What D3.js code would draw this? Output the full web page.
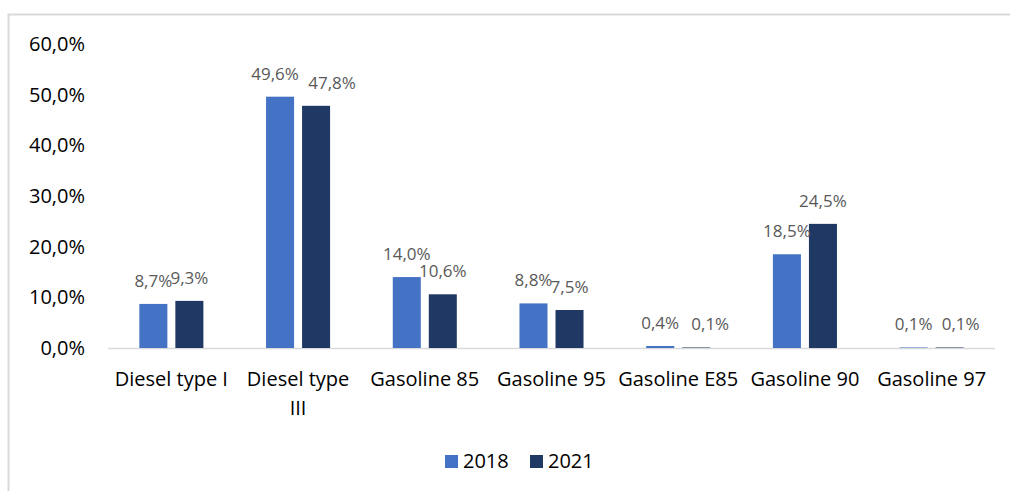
<!DOCTYPE html>
<html>
<head>
<meta charset="utf-8">
<script src="https://cdn.jsdelivr.net/npm/d3@7"></script>
<style>
  body { margin: 0; background: #fff; }
  text { font-family: "Open Sans", sans-serif; }
</style>
</head>
<body>
<div id="chart"></div>
<script>
const categories = ["Diesel type I", "Diesel type III", "Gasoline 85", "Gasoline 95", "Gasoline E85", "Gasoline 90", "Gasoline 97"];
const years = ["2018", "2021"];
const values2018 = [8.7, 49.6, 14.0, 8.8, 0.4, 18.5, 0.1];
const values2021 = [9.3, 47.8, 10.6, 7.5, 0.1, 24.5, 0.1];
const yTicks = [0, 10, 20, 30, 40, 50, 60];
const colors = ["#4472C4", "#203864"];

// data labels that were dragged sideways in the original
const labelNudge = {
    "Diesel type III|2018": -5,
    "Diesel type III|2021": 16,
    "Gasoline E85|2021": 14,
    "Gasoline 97|2021": 11
};

const width = 1010;
const height = 491;

const svg = d3.select("#chart").append("svg")
    .attr("width", width)
    .attr("height", height);

// chart area border (top and left visible)
svg.append("rect")
    .attr("x", 8.5)
    .attr("y", 14.5)
    .attr("width", 1020)
    .attr("height", 500)
    .attr("fill", "none")
    .attr("stroke", "#d9d9d9")
    .attr("stroke-width", 2);

const rows = categories.map(function(c, i) {
    return {cat: c, vals: [values2018[i], values2021[i]]};
});

const x0 = d3.scaleBand().domain(categories).range([108, 995]);
const x1 = d3.scaleBand().domain(years)
    .range([0, x0.bandwidth()])
    .paddingInner(0.222)
    .paddingOuter(0.87);
const y = d3.scaleLinear().domain([0, 60]).range([348, 44]);

// y axis labels
svg.append("g").selectAll("text")
    .data(yTicks)
    .enter()
    .append("text")
    .attr("x", 85)
    .attr("y", function(d) { return y(d); })
    .attr("dy", "0.35em")
    .attr("text-anchor", "end")
    .style("font-size", "20px")
    .attr("fill", "#000")
    .text(function(d) { return d.toFixed(1).replace(".", ",") + "%"; });

// baseline
svg.append("line")
    .attr("x1", 108).attr("x2", 995)
    .attr("y1", y(0) + 0.5).attr("y2", y(0) + 0.5)
    .attr("stroke", "#d9d9d9")
    .attr("stroke-width", 1.5);

const groups = svg.selectAll("g.cat")
    .data(rows)
    .enter()
    .append("g")
    .attr("class", "cat")
    .attr("transform", function(d) { return "translate(" + x0(d.cat) + ",0)"; });

const items = function(d) {
    return d.vals.map(function(v, i) { return {cat: d.cat, year: years[i], v: v, i: i}; });
};

groups.selectAll("rect")
    .data(items)
    .enter()
    .append("rect")
    .attr("x", function(d) { return x1(d.year); })
    .attr("y", function(d) { return y(d.v); })
    .attr("width", x1.bandwidth())
    .attr("height", function(d) { return y(0) - y(d.v); })
    .attr("fill", function(d) { return colors[d.i]; });

groups.selectAll("text.lbl")
    .data(items)
    .enter()
    .append("text")
    .attr("class", "lbl")
    .attr("x", function(d) {
        return x1(d.year) + x1.bandwidth() / 2 + (labelNudge[d.cat + "|" + d.year] || 0);
    })
    .attr("y", function(d) { return y(d.v) - 17; })
    .attr("text-anchor", "middle")
    .style("font-size", "17px")
    .attr("fill", "#595959")
    .text(function(d) { return d.v.toFixed(1).replace(".", ",") + "%"; });

// category labels, wrapped when wider than the band
const catLabels = svg.append("g").selectAll("text")
    .data(categories)
    .enter()
    .append("text")
    .attr("x", function(d) { return x0(d) + x0.bandwidth() / 2; })
    .attr("y", 386)
    .attr("text-anchor", "middle")
    .style("font-size", "20px")
    .attr("fill", "#000");

catLabels.each(function(d) {
    const t = d3.select(this);
    const words = d.split(" ");
    let line = [];
    let tspan = t.append("tspan").attr("x", t.attr("x")).attr("dy", 0);
    words.forEach(function(w) {
        line.push(w);
        tspan.text(line.join(" "));
        if (tspan.node().getComputedTextLength() > 122 && line.length > 1) {
            line.pop();
            tspan.text(line.join(" "));
            line = [w];
            tspan = t.append("tspan").attr("x", t.attr("x")).attr("dy", 29).text(w);
        }
    });
});

// legend
const legend = svg.append("g").selectAll("g")
    .data(years)
    .enter()
    .append("g")
    .attr("transform", function(d, i) { return "translate(" + (445 + i * 85) + ",455)"; });

legend.append("rect")
    .attr("width", 13)
    .attr("height", 13)
    .attr("fill", function(d, i) { return colors[i]; });

legend.append("text")
    .attr("x", 18)
    .attr("y", 13)
    .style("font-size", "20px")
    .attr("fill", "#000")
    .text(function(d) { return d; });
</script>
</body>
</html>
